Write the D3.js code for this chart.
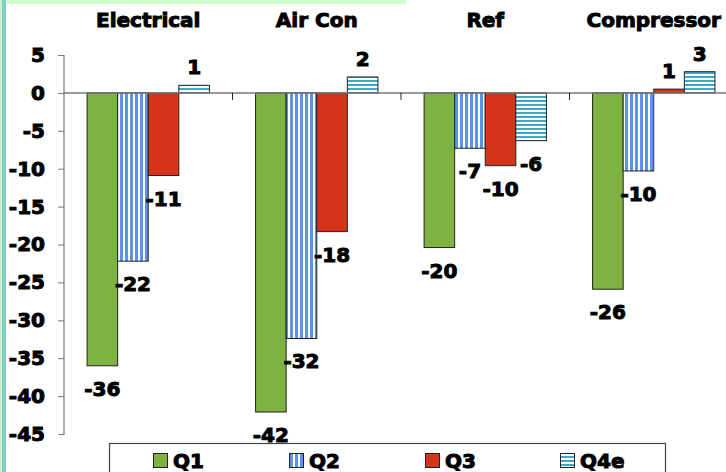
<!DOCTYPE html>
<html><head><meta charset="utf-8">
<script src="https://cdn.jsdelivr.net/npm/d3@7"></script>
<style>
html,body{margin:0;padding:0;background:#fff;}
svg{display:block;font-family:"DejaVu Sans",Verdana,sans-serif;font-weight:bold;}
svg text{stroke:#000;stroke-width:1px;}
</style></head>
<body>
<svg id="chart" width="726" height="472"></svg>
<script>
const categories = ["Electrical", "Air Con", "Ref", "Compressor"];
const seriesNames = ["Q1", "Q2", "Q3", "Q4e"];
const q1 = [-36, -42.1, -20.4, -25.9];
const q2 = [-22.2, -32.4, -7.3, -10.3];
const q3 = [-10.9, -18.3, -9.6, 0.5];
const q4e = [1.0, 2.1, -6.3, 2.8];
const labelsQ1 = ["-36", "-42", "-20", "-26"];
const labelsQ2 = ["-22", "-32", "-7", "-10"];
const labelsQ3 = ["-11", "-18", "-10", "1"];
const labelsQ4e = ["1", "2", "-6", "3"];
const yTicks = [5, 0, -5, -10, -15, -20, -25, -30, -35, -40, -45];

const values = [q1, q2, q3, q4e];
const labels = [labelsQ1, labelsQ2, labelsQ3, labelsQ4e];

const svg = d3.select("#chart");
const defs = svg.append("defs");

// patterns
const pV = defs.append("pattern").attr("id","pQ2").attr("patternUnits","userSpaceOnUse")
  .attr("width",5).attr("height",5);
pV.append("rect").attr("width",5).attr("height",5).attr("fill","#ffffff");
pV.append("rect").attr("x",0).attr("width",3).attr("height",5).attr("fill","#5b93e6");
const pH = defs.append("pattern").attr("id","pQ4").attr("patternUnits","userSpaceOnUse")
  .attr("width",4).attr("height",4);
pH.append("rect").attr("width",4).attr("height",4).attr("fill","#ffffff");
pH.append("rect").attr("y",0).attr("width",4).attr("height",2).attr("fill","#3fa7bf");

const fills = ["#7fb341", "url(#pQ2)", "#d43519", "url(#pQ4)"];

// decorative border
svg.append("rect").attr("x",0).attr("y",0).attr("width",2).attr("height",472).attr("fill","#c8f0cc");
svg.append("rect").attr("x",2).attr("y",0).attr("width",4).attr("height",472).attr("fill","#7fcfc0");
svg.append("rect").attr("x",7).attr("y",0).attr("width",399).attr("height",4).attr("fill","#ccffcc");

const y = d3.scaleLinear().domain([-45, 5]).range([434, 55]);
const x = d3.scaleBand().domain(categories).range([64, 738]).padding(0);
const bw = x.bandwidth();
const xs = d3.scaleBand().domain(seriesNames).range([bw*0.137, bw*0.863]).padding(0);

// y axis
const yAxis = d3.axisLeft(y).tickValues(yTicks).tickSize(6).tickPadding(13).tickFormat(d3.format("d"));
const gy = svg.append("g").attr("transform","translate(64,0)").call(yAxis);
gy.select(".domain").attr("stroke","#777").attr("stroke-width",1.2).attr("d","M-6,55.5H0V434.5H-6");
gy.selectAll(".tick line").attr("stroke","#777");
gy.selectAll(".tick text").attr("font-size",20).attr("font-weight","bold")
  .attr("font-family","'DejaVu Sans',Verdana,sans-serif").attr("fill","#000")
  .text(d => d < 0 ? "-" + Math.abs(d) : d);

// bars
categories.forEach((c, ci) => {
  seriesNames.forEach((s, si) => {
    const v = values[si][ci];
    const x0 = x(c) + xs(s);
    svg.append("rect")
      .attr("x", x0).attr("width", xs.bandwidth())
      .attr("y", y(Math.max(0, v))).attr("height", Math.abs(y(v) - y(0)))
      .attr("fill", fills[si]).attr("stroke", "#222").attr("stroke-width", 1);
  });
});

// zero line & category ticks
svg.append("line").attr("x1",64).attr("x2",738).attr("y1",y(0)).attr("y2",y(0))
  .attr("stroke","#777").attr("stroke-width",1.5);
categories.slice(1).forEach(c => {
  svg.append("line").attr("x1",x(c)).attr("x2",x(c)).attr("y1",y(0)).attr("y2",y(0)+7)
    .attr("stroke","#222").attr("stroke-width",1);
});

// value labels
categories.forEach((c, ci) => {
  seriesNames.forEach((s, si) => {
    const v = values[si][ci];
    const cx = x(c) + xs(s) + xs.bandwidth()/2;
    svg.append("text")
      .attr("x", cx)
      .attr("y", v < 0 ? y(v) + 30 : y(v) - 11)
      .attr("text-anchor","middle").attr("font-size",20).attr("fill","#000")
      .text(labels[si][ci]);
  });
});

// category labels
categories.forEach(c => {
  svg.append("text").attr("x", x(c) + bw/2).attr("y", 27)
    .attr("text-anchor","middle").attr("font-size",20).attr("fill","#000").text(c);
});

// legend
const lg = svg.append("g");
lg.append("rect").attr("x",109.5).attr("y",443.5).attr("width",556).attr("height",40)
  .attr("fill","#fff").attr("stroke","#444").attr("stroke-width",1.2);
const legX = [153, 289, 425, 560];
seriesNames.forEach((s, i) => {
  lg.append("rect").attr("x",legX[i]+0.5).attr("y",453.5).attr("width",14).attr("height",14)
    .attr("fill",fills[i]).attr("stroke","#222").attr("stroke-width",1);
  lg.append("text").attr("x",legX[i]+20).attr("y",468).attr("font-size",20).attr("fill","#000").text(s);
});
</script>
</body></html>
